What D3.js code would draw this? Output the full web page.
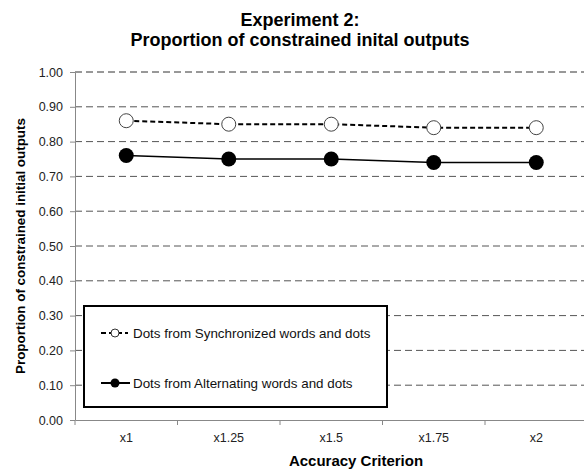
<!DOCTYPE html>
<html><head><meta charset="utf-8">
<script src="https://cdn.jsdelivr.net/npm/d3@7"></script>
<style>body{margin:0;background:#fff}svg{display:block;font-family:"Liberation Sans",Arial,sans-serif}</style>
</head><body><svg id="c" width="584" height="475"></svg>
<script>
const categories = ["x1","x1.25","x1.5","x1.75","x2"];
const syncValues = [0.86,0.85,0.85,0.84,0.84];
const altValues = [0.76,0.75,0.75,0.74,0.74];
const yTicks = [0,0.1,0.2,0.3,0.4,0.5,0.6,0.7,0.8,0.9,1.0];
const seriesNames = ["Dots from Synchronized words and dots","Dots from Alternating words and dots"];

const svg = d3.select("#c");
const L=75, R=587.5, T=72, B=420;
const x = d3.scaleBand().domain(categories).range([L,R]);
const y = d3.scaleLinear().domain([0,1]).range([B,T]);

// gridlines
svg.append("g").selectAll("line").data(yTicks.filter(d=>d>0)).join("line")
  .attr("x1",L).attr("x2",584).attr("y1",d=>y(d)).attr("y2",d=>y(d))
  .attr("stroke",d=>d===1?"#333":"#555").attr("stroke-width",1).attr("stroke-dasharray","7,4");

// y axis
const ya = svg.append("g").attr("transform",`translate(${L},0)`)
  .call(d3.axisLeft(y).tickValues(yTicks).tickFormat(d3.format(".2f")).tickSize(5).tickSizeOuter(0));
ya.select(".domain").attr("stroke","#888");
ya.selectAll(".tick line").attr("stroke","#888");
ya.selectAll("text").attr("font-size",12.5).attr("fill","#222").attr("x",-12).attr("font-family","Liberation Sans, Arial, sans-serif");

// x axis
const xa = svg.append("g").attr("transform",`translate(0,${B})`)
  .call(d3.axisBottom(x).tickSize(0).tickSizeOuter(0));
xa.select(".domain").attr("stroke","#888");
xa.selectAll("text").attr("font-size",12.5).attr("fill","#222").attr("y",0).attr("dy","22").attr("font-family","Liberation Sans, Arial, sans-serif");
svg.append("g").selectAll("line").data(categories).join("line")
  .attr("x1",d=>x(d)).attr("x2",d=>x(d)).attr("y1",B).attr("y2",B+5).attr("stroke","#888");

const cx = d => x(d)+x.bandwidth()/2;
const line = d3.line().x((d,i)=>cx(categories[i])).y(d=>y(d));

svg.append("path").datum(altValues).attr("d",line).attr("fill","none").attr("stroke","#000").attr("stroke-width",1.5);
svg.append("path").datum(syncValues).attr("d",line).attr("fill","none").attr("stroke","#000").attr("stroke-width",2).attr("stroke-dasharray","5,3");

svg.append("g").selectAll("circle").data(altValues).join("circle")
  .attr("cx",(d,i)=>cx(categories[i])).attr("cy",d=>y(d)).attr("r",7.5).attr("fill","#000");
svg.append("g").selectAll("circle").data(syncValues).join("circle")
  .attr("cx",(d,i)=>cx(categories[i])).attr("cy",d=>y(d)).attr("r",7).attr("fill","#fff").attr("stroke","#444").attr("stroke-width",1);

// legend
const lg = svg.append("g");
lg.append("rect").attr("x",84).attr("y",306).attr("width",303).attr("height",101).attr("fill","#fff").attr("stroke","#000").attr("stroke-width",2);
lg.append("line").attr("x1",101).attr("x2",128).attr("y1",333).attr("y2",333).attr("stroke","#000").attr("stroke-width",2).attr("stroke-dasharray","5,3");
lg.append("circle").attr("cx",115).attr("cy",333).attr("r",4).attr("fill","#fff").attr("stroke","#333");
lg.append("line").attr("x1",101).attr("x2",130).attr("y1",383).attr("y2",383).attr("stroke","#000").attr("stroke-width",2);
lg.append("circle").attr("cx",115).attr("cy",383).attr("r",4.5).attr("fill","#000");
lg.append("text").attr("x",133).attr("y",338).attr("font-size",13.4).attr("fill","#111").text(seriesNames[0]);
lg.append("text").attr("x",133).attr("y",388).attr("font-size",13.4).attr("fill","#111").text(seriesNames[1]);

// titles
svg.append("text").attr("x",300).attr("y",26).attr("text-anchor","middle").attr("font-size",18).attr("font-weight","bold").text("Experiment 2:");
svg.append("text").attr("x",300).attr("y",46).attr("text-anchor","middle").attr("font-size",18).attr("font-weight","bold").text("Proportion of constrained inital outputs");
svg.append("text").attr("x",356).attr("y",466).attr("text-anchor","middle").attr("font-size",15).attr("font-weight","bold").text("Accuracy Criterion");
svg.append("text").attr("transform","translate(25,246) rotate(-90)").attr("text-anchor","middle").attr("font-size",13.4).attr("font-weight","bold").text("Proportion of constrained initial outputs");
</script></body></html>
